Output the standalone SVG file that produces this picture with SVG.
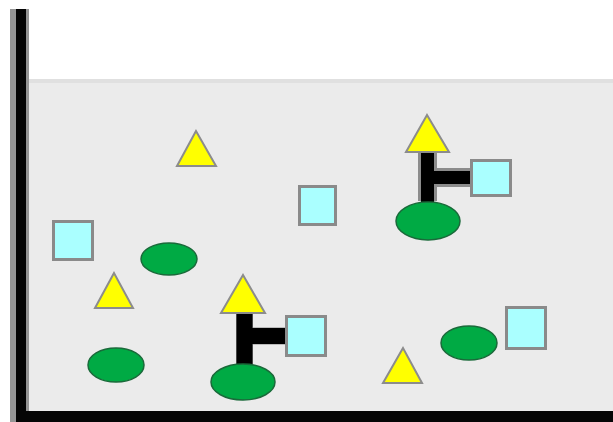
<svg xmlns="http://www.w3.org/2000/svg" width="613" height="422" viewBox="0 0 613 422">
<style>
.tri{fill:#ffff00;stroke:#8c8c8c;stroke-width:2;stroke-linejoin:miter}
.sq{fill:#aaffff;stroke:#8a8a8a;stroke-width:3}
.ell{fill:#00aa44;stroke:#1a6a3a;stroke-width:1.5}
.bar{stroke:#000;fill:none}
.barOut{stroke:#8c8c8c;fill:none}
</style>
<rect x="0" y="0" width="613" height="422" fill="#ffffff"/>
<rect x="29" y="79" width="584" height="332" fill="#ebebeb"/>
<rect x="29" y="79" width="584" height="4" fill="#e0e0e0"/>
<rect x="10" y="9" width="6" height="413" fill="#959595"/>
<rect x="16" y="9" width="10" height="413" fill="#050505"/>
<rect x="26" y="9" width="3" height="402" fill="#959595"/>
<rect x="16" y="411" width="597" height="11" fill="#050505"/>
<g id="connectors">
<path class="barOut" d="M427.5 153 V201 M436 177.5 H471" stroke-width="19"/>
<path class="bar" d="M427.5 152 V202 M433 177.5 H471" stroke-width="13"/>
<path class="barOut" d="M244.5 314 V364 M253 336 H286" stroke-width="17"/>
<path class="bar" d="M244.5 313 V365 M250 336 H286" stroke-width="16"/>
</g>
<g id="tri1"><polygon class="tri" points="196,131 177,166 216,166"/></g>
<g id="tri2"><polygon class="tri" points="114,273 95,308 133,308"/></g>
<g id="tri3"><polygon class="tri" points="427,115 406,152 449,152"/></g>
<g id="tri4"><polygon class="tri" points="243,275 221,313 265,313"/></g>
<g id="tri5"><polygon class="tri" points="403,348 383,383 422,383"/></g>
<g id="sq1"><rect class="sq" x="299.5" y="186.5" width="36" height="38"/></g>
<g id="sq2"><rect class="sq" x="53.5" y="221.5" width="39" height="38"/></g>
<g id="sq3"><rect class="sq" x="471.5" y="160.5" width="39" height="35"/></g>
<g id="sq4"><rect class="sq" x="286.5" y="316.5" width="39" height="39"/></g>
<g id="sq5"><rect class="sq" x="506.5" y="307.5" width="39" height="41"/></g>
<g id="ell1"><ellipse class="ell" cx="169" cy="259" rx="28" ry="16"/></g>
<g id="ell2"><ellipse class="ell" cx="428" cy="221" rx="32" ry="19"/></g>
<g id="ell3"><ellipse class="ell" cx="243" cy="382" rx="32" ry="18"/></g>
<g id="ell4"><ellipse class="ell" cx="116" cy="365" rx="28" ry="17"/></g>
<g id="ell5"><ellipse class="ell" cx="469" cy="343" rx="28" ry="17"/></g>
</svg>
